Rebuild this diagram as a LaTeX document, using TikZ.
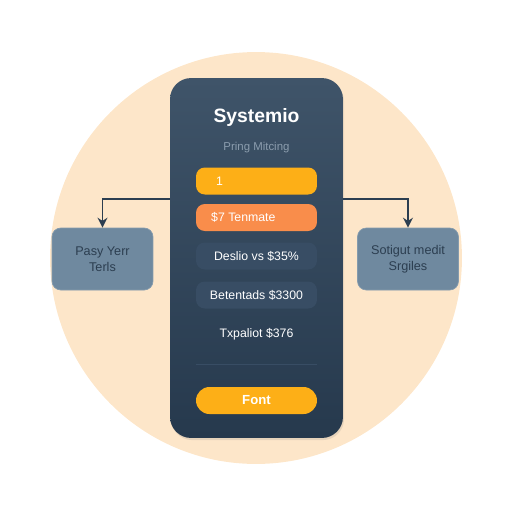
\documentclass[tikz,border=0pt]{standalone}
\usepackage{fontspec}
\setmainfont{Liberation Sans}
\usetikzlibrary{arrows.meta,positioning,shadows}
\definecolor{figpeach}{HTML}{FDE6C9}
\definecolor{figslate}{HTML}{2C3E50}
\definecolor{figtop}{HTML}{3F5469}
\definecolor{figbottom}{HTML}{26394D}
\definecolor{figrow}{HTML}{384D64}
\definecolor{figamber}{HTML}{FDAF17}
\definecolor{figorange}{HTML}{F98D4B}
\definecolor{figside}{HTML}{6F899F}
\definecolor{figmuted}{HTML}{8C9DAE}
\tikzset{
  panel/.style={
    rectangle, rounded corners=12pt, draw=none,
    top color=figtop, bottom color=figbottom,
    minimum width=3.46cm, minimum height=7.2cm,
    drop shadow={opacity=0.18, shadow xshift=0.6pt, shadow yshift=-1.2pt}
  },
  bar/.style={
    rectangle, rounded corners=5pt, draw=none,
    minimum width=2.42cm, minimum height=0.54cm,
    inner sep=0pt, font=\fontsize{7}{8}\selectfont, text=white
  },
  pill/.style={
    bar, rounded corners=0.27cm, fill=figamber,
    font=\fontsize{7.5}{8}\selectfont\bfseries
  },
  sidebox/.style={
    rectangle, rounded corners=5pt, draw=figside!85!white, fill=figside,
    minimum width=2.02cm, minimum height=1.24cm,
    align=center, text=figslate, font=\fontsize{7.2}{8.8}\selectfont
  },
  arrow/.style={-{Stealth[length=2mm,width=2mm]}, line width=1.1pt, draw=figslate}
}

\begin{document}
\begin{tikzpicture}[x=0.02cm, y=-0.02cm]
  \useasboundingbox (0,0) rectangle (512,512);
  \fill[figpeach] (256,258) circle[radius=4.12cm];

  % central card
  \node[panel] (panel) at (256.5,258) {};
  \node[text=white, font=\fontsize{11}{12}\selectfont\bfseries] (title) at (256.5,117) {Systemio};
  \node[text=figmuted, font=\fontsize{6.5}{7}\selectfont] (subtitle) at (256.5,148) {Pring Mitcing};

  \node[bar, fill=figamber] (first) at (256.5,181) {};
  \node[text=white, font=\fontsize{7}{8}\selectfont, anchor=west] (firstlabel) at (210,181) {1};
  \node[bar, fill=figorange] (template) at (256.5,217.5) {};
  \node[text=white, font=\fontsize{7}{8}\selectfont, anchor=west] (templatelabel) at (205,217.5) {\$7 Tenmate};
  \node[bar, fill=figrow] (deslio) at (256.5,256) {Deslio vs \$35\%};
  \node[bar, fill=figrow] (betent) at (256.5,295) {Betentads \$3300};
  \node[bar] (txpal) at (256.5,334) {Txpaliot \$376};
  \draw[figrow, line width=0.4pt] (196,364) -- (317,364);
  \node[pill] (font) at (256.5,400.5) {Font};

  % side boxes
  \node[sidebox] (left) at (102.5,259) {Pasy Yerr\\Terls};
  \node[sidebox] (right) at (408,259) {Sotigut medit\\Srgiles};

  \coordinate (lstart) at (170,199);
  \coordinate (rstart) at (343,199);
  \draw[arrow] (lstart) -| (left.north);
  \draw[arrow] (rstart) -| (right.north);
\end{tikzpicture}
\end{document}
